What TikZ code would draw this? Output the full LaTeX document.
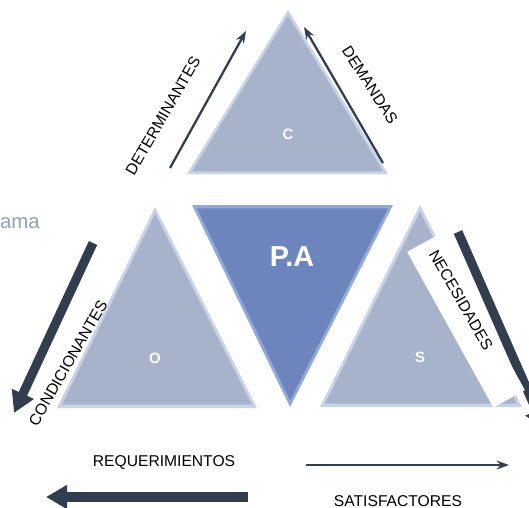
\documentclass[tikz,border=0pt]{standalone}
\usepackage{fontspec}
\setmainfont{Liberation Sans}
\usetikzlibrary{arrows.meta,calc}

\definecolor{navy}{HTML}{323E50}
\definecolor{paleface}{HTML}{A7B3CB}
\definecolor{paleedge}{HTML}{C8D3E8}
\definecolor{deepface}{HTML}{6C85BD}
\definecolor{deepedge}{HTML}{93A9D8}
\definecolor{titlegray}{HTML}{8FA1BF}

\tikzset{
  lbl/.style = {font=\fontsize{8.9}{10}\selectfont, inner sep=0pt},
  letter/.style = {text=white, font=\fontsize{8.5}{10}\selectfont\bfseries, inner sep=0pt},
  thin arrow/.style = {navy, line width=1.3pt, -{Stealth[length=7pt,width=5pt]}},
  thick arrow/.style = {navy, line width=5.2pt, -{Triangle[length=12pt,width=13pt]}}
}

% bevelled triangle: vertices, edge colour, face colour
\newcommand{\bevtri}[5]{
  \fill[#4] (#1) -- (#2) -- (#3) -- cycle;
  \coordinate (g) at (barycentric cs:#1=1,#2=1,#3=1);
  \fill[#5] ($(#1)!0.05!(g)$) -- ($(#2)!0.05!(g)$) -- ($(#3)!0.05!(g)$) -- cycle;
}

\begin{document}
\begin{tikzpicture}[x=0.02cm, y=-0.02cm]
\useasboundingbox (0,0) rectangle (529,508);
\clip (0,0) rectangle (529,508);

% triangles
\coordinate (c1) at (288,10);  \coordinate (c2) at (187,174); \coordinate (c3) at (388,174);
\coordinate (o1) at (155,207); \coordinate (o2) at (57,408);  \coordinate (o3) at (257,408);
\coordinate (s1) at (420,205); \coordinate (s2) at (320,407); \coordinate (s3) at (522,407);
\coordinate (p1) at (192,205); \coordinate (p2) at (393,205); \coordinate (p3) at (290,407);
\bevtri{c1}{c2}{c3}{paleedge}{paleface}
\bevtri{o1}{o2}{o3}{paleedge}{paleface}
\bevtri{s1}{s2}{s3}{paleedge}{paleface}
\bevtri{p1}{p2}{p3}{deepedge}{deepface}

\node[letter] (cl) at (288,134) {C};
\node[letter] (ol) at (155,358) {O};
\node[letter] (sl) at (420,357) {S};
\node[text=white, font=\fontsize{16.4}{18}\selectfont\bfseries, inner sep=0pt] (pa) at (292,257) {P.A};

% title fragment
\node[anchor=east, text=titlegray, font=\fontsize{11.6}{13}\selectfont, inner sep=0pt] (ttl) at (40,223) {ama};

% top arrows
\coordinate (detA) at (170,168); \coordinate (detB) at (246,31);
\draw[thin arrow] (detA) -- (detB);
\node[lbl, rotate=60] (det) at (163,116) {DETERMINANTES};
\coordinate (demA) at (383,163); \coordinate (demB) at (304,27);
\draw[thin arrow] (demA) -- (demB);
\node[lbl, rotate=-57] (dem) at (370,85) {DEMANDAS};

% left arrow
\coordinate (conA) at (93,243); \coordinate (conB) at (14,413);
\draw[thick arrow] (conA) -- (conB);
\node[lbl, rotate=60] (con) at (68,363) {CONDICIONANTES};

% right arrow with label box
\coordinate (necA) at (458,232); \coordinate (necB) at (545,430);
\draw[thick arrow] (necA) -- (necB);
\node[fill=white, rotate=-61, minimum width=3.56cm, minimum height=0.72cm, inner sep=0pt] (necbox) at (466,321) {};
\node[lbl, rotate=-60] (nec) at (461,300) {NECESIDADES};

% bottom arrows
\node[lbl] (req) at (164,463) {REQUERIMIENTOS};
\coordinate (satA) at (306,465); \coordinate (satB) at (509,465);
\draw[thin arrow] (satA) -- (satB);
\coordinate (reqA) at (248,497); \coordinate (reqB) at (46,497);
\draw[thick arrow] (reqA) -- (reqB);
\node[lbl] (sat) at (398,501) {SATISFACTORES};
\end{tikzpicture}
\end{document}
